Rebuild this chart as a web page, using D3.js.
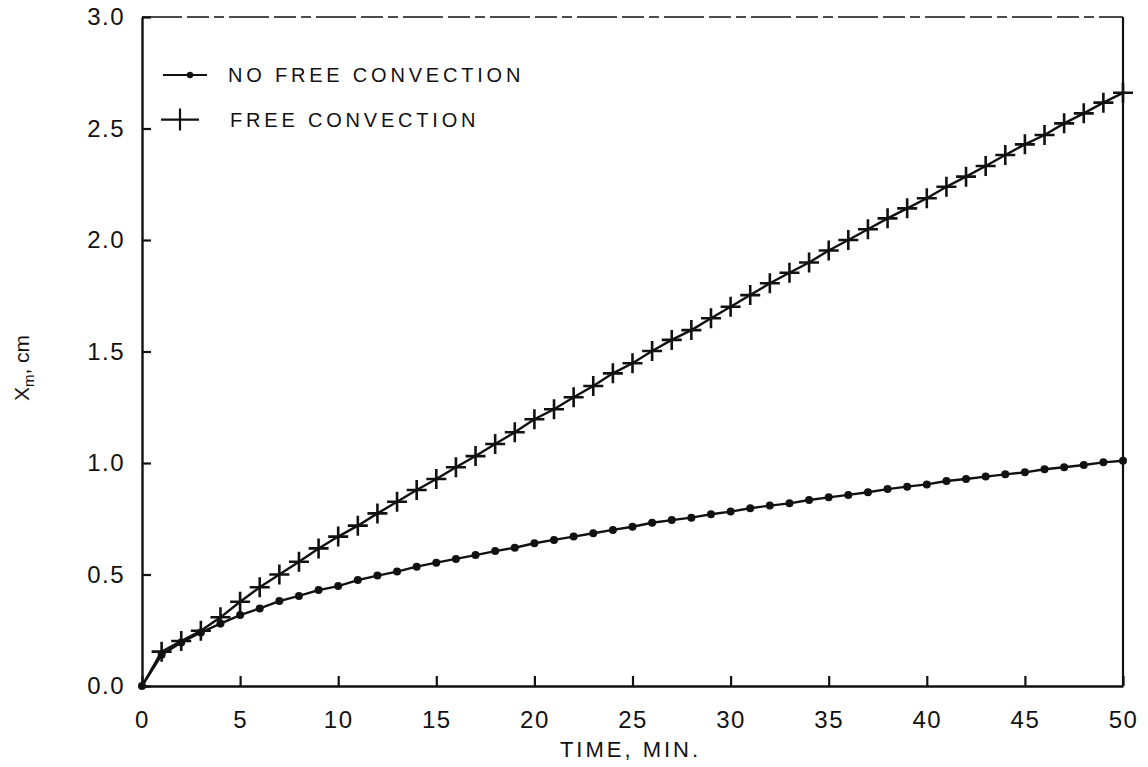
<!DOCTYPE html>
<html>
<head>
<meta charset="utf-8">
<script src="https://cdn.jsdelivr.net/npm/d3@7"></script>
<style>
  body { margin: 0; background: #fff; }
  svg { font-family: "Liberation Sans", Arial, sans-serif; }
</style>
</head>
<body>
<svg id="chart" width="1148" height="767"></svg>
<script>
// time, minutes
let minutes = [0, 1, 2, 3, 4, 5, 6, 7, 8, 9, 10, 11, 12, 13, 14, 15, 16, 17, 18, 19, 20,
  21, 22, 23, 24, 25, 26, 27, 28, 29, 30, 31, 32, 33, 34, 35, 36, 37, 38, 39, 40,
  41, 42, 43, 44, 45, 46, 47, 48, 49, 50];

// x_m, cm  -- no free convection (dots)
let noFreeConv = [0, 0.14, 0.195, 0.24, 0.28, 0.318, 0.348, 0.381, 0.404, 0.43, 0.448,
  0.475, 0.495, 0.513, 0.535, 0.553, 0.57, 0.587, 0.605, 0.62, 0.64,
  0.655, 0.67, 0.685, 0.7, 0.714, 0.732, 0.744, 0.755, 0.77, 0.782,
  0.797, 0.809, 0.819, 0.834, 0.846, 0.857, 0.869, 0.883, 0.894, 0.904,
  0.919, 0.928, 0.939, 0.949, 0.958, 0.972, 0.981, 0.991, 1.003, 1.01];

// x_m, cm  -- free convection (crosses)
let freeConv = [0, 0.154, 0.202, 0.248, 0.308, 0.378, 0.443, 0.5, 0.557, 0.617, 0.67,
  0.719, 0.774, 0.826, 0.879, 0.928, 0.981, 1.031, 1.085, 1.138, 1.196,
  1.241, 1.295, 1.345, 1.402, 1.447, 1.502, 1.552, 1.596, 1.649, 1.701,
  1.753, 1.806, 1.853, 1.899, 1.953, 2.0, 2.048, 2.097, 2.142, 2.187,
  2.239, 2.284, 2.332, 2.381, 2.429, 2.471, 2.523, 2.568, 2.616, 2.66];

let xTicks = [0, 5, 10, 15, 20, 25, 30, 35, 40, 45, 50];
let yTicks = [0, 0.5, 1.0, 1.5, 2.0, 2.5, 3.0];
let legendLabels = ["NO FREE CONVECTION", "FREE CONVECTION"];

let svg = d3.select("svg#chart"),
  margin = { top: 17, right: 25, bottom: 81, left: 142 },
  width = +svg.attr("width") - margin.left - margin.right,
  height = +svg.attr("height") - margin.top - margin.bottom;

let xScale = d3.scaleLinear().domain([0, 50]).range([0, width]),
  yScale = d3.scaleLinear().domain([0, 3]).range([height, 0]);

let g = svg.append("g")
  .attr("transform", "translate(" + margin.left + "," + margin.top + ")");

// frame: dashed top, solid right
g.append("line")
  .attr("x1", 0).attr("x2", width).attr("y1", 0).attr("y2", 0)
  .attr("stroke", "#111").attr("stroke-width", 1.6)
  .attr("stroke-dasharray", "40,5,22,5,10,5");
g.append("line")
  .attr("x1", width).attr("x2", width).attr("y1", 0).attr("y2", height)
  .attr("stroke", "#111").attr("stroke-width", 2.2);

// axes with inward ticks
let xAxis = g.append("g")
  .attr("transform", "translate(0," + height + ")")
  .call(d3.axisBottom(xScale).tickValues(xTicks).tickSizeInner(-10).tickSizeOuter(0)
    .tickPadding(25).tickFormat(d3.format("d")));
let yAxis = g.append("g")
  .call(d3.axisLeft(yScale).tickValues(yTicks).tickSizeInner(-9).tickSizeOuter(0)
    .tickPadding(17).tickFormat(d3.format(".1f")));

[xAxis, yAxis].forEach(function (a) {
  a.select(".domain").attr("stroke", "#111").attr("stroke-width", 2.4);
  a.selectAll(".tick line").attr("stroke", "#111").attr("stroke-width", 2.2);
  a.selectAll(".tick text")
    .attr("fill", "#111")
    .style("font-size", "24px")
    .style("letter-spacing", "1.5px");
});

// axis titles
svg.append("text")
  .attr("x", margin.left + xScale(25) - 2)
  .attr("y", 757)
  .attr("text-anchor", "middle")
  .attr("fill", "#111")
  .style("font-size", "22px")
  .style("letter-spacing", "3px")
  .text("TIME, MIN.");

let yTitle = svg.append("text")
  .attr("transform", "translate(29,368) rotate(-90)")
  .attr("text-anchor", "middle")
  .attr("fill", "#111")
  .style("font-size", "21px");
yTitle.append("tspan").text("X");
yTitle.append("tspan").attr("dy", 5).style("font-size", "15px").text("m");
yTitle.append("tspan").attr("dy", -5).text(", cm");

// series
let dotsData = minutes.map(function (t, i) { return { t: t, v: noFreeConv[i] }; });
let crossData = minutes.map(function (t, i) { return { t: t, v: freeConv[i] }; });

let line = d3.line()
  .x(function (d) { return xScale(d.t); })
  .y(function (d) { return yScale(d.v); });

g.append("path").datum(dotsData)
  .attr("d", line).attr("fill", "none").attr("stroke", "#111").attr("stroke-width", 2.4);
g.append("path").datum(crossData)
  .attr("d", line).attr("fill", "none").attr("stroke", "#111").attr("stroke-width", 2.4);

g.selectAll(".dot")
  .data(dotsData)
  .enter()
  .append("circle")
  .attr("class", "dot")
  .attr("cx", function (d) { return xScale(d.t); })
  .attr("cy", function (d) { return yScale(d.v); })
  .attr("r", 4)
  .attr("fill", "#111");

g.selectAll(".cross")
  .data(crossData.filter(function (d) { return d.t > 0; }))
  .enter()
  .append("path")
  .attr("class", "cross")
  .attr("transform", function (d) {
    return "translate(" + xScale(d.t) + "," + yScale(d.v) + ")";
  })
  .attr("d", "M-10,0H10M0,-10V10")
  .attr("stroke", "#111")
  .attr("stroke-width", 2.6);

// legend
let legend = g.append("g");
let ly = [yScale(2.74), yScale(2.54)];
legend.append("line")
  .attr("x1", 21).attr("x2", 65).attr("y1", ly[0]).attr("y2", ly[0])
  .attr("stroke", "#111").attr("stroke-width", 2);
legend.append("circle")
  .attr("cx", 48).attr("cy", ly[0]).attr("r", 3.2).attr("fill", "#111");
legend.append("path")
  .attr("transform", "translate(38," + ly[1] + ")")
  .attr("d", "M-19,0H19M0,-11V11")
  .attr("stroke", "#111").attr("stroke-width", 2.2);
legend.selectAll(".ltext")
  .data(legendLabels)
  .enter()
  .append("text")
  .attr("class", "ltext")
  .attr("x", function (d, i) { return i === 0 ? 86 : 88; })
  .attr("y", function (d, i) { return ly[i] + 7; })
  .attr("fill", "#111")
  .style("font-size", "20px")
  .style("letter-spacing", "3.8px")
  .text(function (d) { return d; });
</script>
</body>
</html>
